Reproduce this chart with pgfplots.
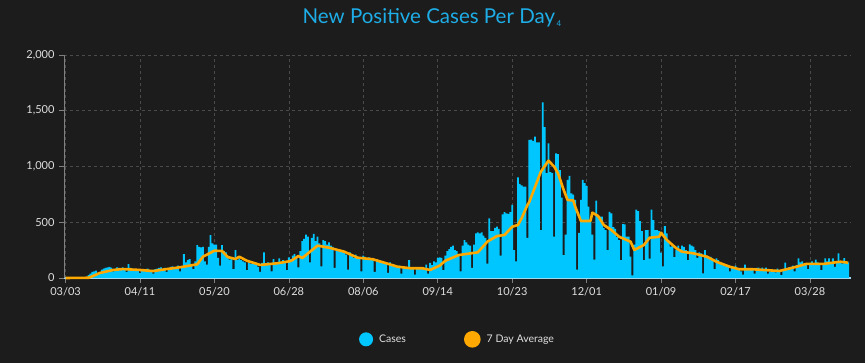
\documentclass[border=0pt]{standalone}
\usepackage{pgfplots}
\pgfplotsset{compat=1.18}
\usepackage{fontspec}
\setmainfont{Lato}
\definecolor{bgcol}{HTML}{1C1C1C}
\definecolor{casecol}{HTML}{00C6FF}
\definecolor{avgcol}{HTML}{FFA800}
\definecolor{titlecol}{HTML}{1EADE6}
\definecolor{gridcol}{HTML}{4A4A4A}
\definecolor{labcol}{HTML}{E0E0E0}
\definecolor{basecol}{HTML}{9ED9F0}
\begin{document}
\begin{tikzpicture}[x=1pt,y=1pt]
\fill[bgcol] (0,0) rectangle (865,363);
\node[text=titlecol, anchor=center] at (432,345) {{\fontsize{20.5}{24}\selectfont New Positive Cases Per Day}\,\raisebox{-3pt}{\fontsize{8}{9}\selectfont 4}};
\begin{axis}[
  at={(64pt,85pt)}, anchor=south west,
  width=787pt, height=223pt, scale only axis,
  xmin=-0.8, xmax=411.5, ymin=0, ymax=2000,
  axis x line*=bottom, axis y line*=left,
  x axis line style={basecol, line width=1.2pt, -},
  y axis line style={gray, line width=0.6pt, -},
  xtick={0,39,78,117,156,195,234,273,312,351,390},
  xticklabels={03/03,04/11,05/20,06/28,08/06,09/14,10/23,12/01,01/09,02/17,03/28},
  ytick={0,500,1000,1500,2000},
  yticklabels={0,500,{1,000},{1,500},{2,000}},
  tick align=outside, major tick length=5pt,
  tick style={gray, line width=0.6pt},
  xmajorgrids, ymajorgrids,
  major grid style={gridcol, dashed, line width=0.6pt},
  ticklabel style={text=labcol, font=\fontsize{11}{13}\selectfont},
  xticklabel style={yshift=-1pt},
  yticklabel style={xshift=-1pt},
  legend style={at={(0.5,-0.275)}, anchor=center, draw=none, fill=none,
    text=labcol, font=\fontsize{10.5}{12}\selectfont, legend columns=2,
    /tikz/every even column/.append style={column sep=56pt}},
  clip=false,
]
\addplot[ybar, bar width=1.8pt, bar shift=0pt, draw=none, fill=casecol,
  legend image code/.code={\fill[casecol] (0.06cm,0cm) circle (7pt);\path (0.45cm,0cm);}]
  coordinates {
(0,0)(1,0)(2,1)(3,0)(4,2)(5,1)(6,3)(7,2)(8,4)(9,3)(10,5)(11,8)(12,25)
(13,40)(14,55)(15,60)(16,65)(17,45)(18,50)(19,75)(20,85)
(21,90)(22,95)(23,100)(24,92)(25,60)(26,70)(27,95)
(28,90)(29,85)(30,95)(31,80)(32,55)(33,125)(34,90)
(35,85)(36,80)(37,80)(38,70)(39,45)(40,75)(41,80)
(42,75)(43,85)(44,60)(45,70)(46,40)(47,80)(48,85)
(49,90)(50,95)(51,80)(52,90)(53,55)(54,85)(55,100)
(56,105)(57,95)(58,90)(59,110)(60,60)(61,100)(62,215)
(63,140)(64,160)(65,170)(66,115)(67,80)(68,150)(69,295)
(70,280)(71,275)(72,280)(73,150)(74,120)(75,280)(76,385)
(77,310)(78,300)(79,300)(80,180)(81,110)(82,295)(83,240)
(84,230)(85,180)(86,165)(87,175)(88,80)(89,250)(90,160)
(91,175)(92,160)(93,150)(94,140)(95,70)(96,140)(97,130)
(98,125)(99,130)(100,115)(101,100)(102,55)(103,135)(104,230)
(105,120)(106,140)(107,120)(108,60)(109,170)(110,130)(111,135)
(112,175)(113,140)(114,160)(115,150)(116,70)(117,185)(118,170)
(119,200)(120,215)(121,180)(122,95)(123,240)(124,330)(125,350)
(126,390)(127,370)(128,140)(129,360)(130,395)(131,330)(132,370)
(133,310)(134,105)(135,340)(136,330)(137,300)(138,320)(139,290)
(140,280)(141,90)(142,260)(143,255)(144,250)(145,245)(146,230)
(147,210)(148,75)(149,230)(150,200)(151,180)(152,210)(153,190)
(154,190)(155,60)(156,200)(157,190)(158,175)(159,185)(160,170)
(161,165)(162,55)(163,170)(164,160)(165,150)(166,140)(167,130)
(168,130)(169,45)(170,140)(171,125)(172,120)(173,115)(174,105)
(175,110)(176,40)(177,100)(178,100)(179,95)(180,160)(181,90)
(182,95)(183,30)(184,90)(185,95)(186,90)(187,85)(188,80)
(189,120)(190,40)(191,135)(192,115)(193,150)(194,140)(195,180)
(196,185)(197,180)(198,70)(199,200)(200,240)(201,260)(202,280)
(203,290)(204,250)(205,240)(206,200)(207,60)(208,290)(209,340)
(210,320)(211,300)(212,290)(213,90)(214,300)(215,400)(216,410)
(217,400)(218,410)(219,380)(220,360)(221,130)(222,535)(223,420)
(224,420)(225,450)(226,460)(227,440)(228,200)(229,570)(230,590)
(231,580)(232,575)(233,590)(234,655)(235,250)(236,150)(237,903)
(238,845)(239,830)(240,820)(241,820)(242,360)(243,1238)(244,1240)
(245,1230)(246,1268)(247,1217)(248,1217)(249,430)(250,1576)(251,1352)
(252,940)(253,1208)(254,950)(255,940)(256,370)(257,1118)(258,1110)
(259,968)(260,720)(261,206)(262,388)(263,880)(264,915)(265,760)
(266,747)(267,700)(268,74)(269,405)(270,700)(271,879)(272,850)
(273,825)(274,640)(275,500)(276,390)(277,164)(278,693)(279,556)
(280,550)(281,550)(282,450)(283,430)(284,251)(285,592)(286,580)
(287,457)(288,440)(289,366)(290,340)(291,161)(292,484)(293,480)
(294,370)(295,370)(296,191)(297,24)(298,300)(299,613)(300,600)
(301,511)(302,421)(303,161)(304,430)(305,430)(306,174)(307,613)
(308,520)(309,430)(310,430)(311,420)(312,227)(313,105)(314,466)
(315,400)(316,326)(317,281)(318,290)(319,188)(320,250)(321,290)
(322,260)(323,290)(324,280)(325,251)(326,161)(327,302)(328,290)
(329,281)(330,250)(331,180)(332,230)(333,221)(334,42)(335,251)
(336,200)(337,183)(338,190)(339,170)(340,80)(341,175)(342,160)
(343,140)(344,130)(345,120)(346,110)(347,110)(348,60)(349,100)
(350,95)(351,110)(352,80)(353,75)(354,60)(355,30)(356,120)
(357,80)(358,75)(359,70)(360,85)(361,40)(362,90)(363,93)
(364,75)(365,93)(366,80)(367,93)(368,40)(369,60)(370,65)
(371,55)(372,50)(373,84)(374,55)(375,25)(376,70)(377,138)
(378,75)(379,95)(380,100)(381,110)(382,60)(383,115)(384,176)
(385,140)(386,150)(387,125)(388,130)(389,80)(390,120)(391,150)
(392,130)(393,165)(394,140)(395,120)(396,70)(397,130)(398,176)
(399,150)(400,176)(401,130)(402,176)(403,100)(404,140)(405,221)
(406,150)(407,130)(408,178)(409,150)(410,140)
};
\addlegendentry{Cases}
\addplot[avgcol, line width=2.6pt, line join=round, mark=none,
  legend image code/.code={\fill[avgcol] (0.06cm,0cm) circle (7pt);\path (0.45cm,0cm);}]
  coordinates {
(0,0)(12,2)(14,15)(18,45)(25,72)(30,80)(39,72)(46,62)(53,80)(60,96)
(69,123)(72,191)(78,245)(82,242)(85,188)(89,170)(91,191)(95,155)(102,117)
(111,132)(118,152)(122,197)(124,179)(132,290)(138,272)(146,236)(153,182)
(161,168)(168,132)(174,101)(181,87)(187,87)(191,72)(196,111)(199,155)
(206,206)(216,230)(221,326)(226,376)(230,386)(234,460)(237,475)(239,538)
(242,655)(243,684)(249,953)(253,1052)(256,999)(258,939)(261,789)(263,700)
(266,695)(267,640)(270,511)(275,511)(276,586)(279,556)(282,475)(286,430)
(290,370)(296,326)(298,251)(303,296)(306,361)(311,370)(312,406)(315,341)
(320,266)(323,236)(329,221)(336,191)(341,146)(348,101)(353,78)(360,78)
(374,63)(383,101)(388,126)(397,126)(406,146)(410,137)
};
\addlegendentry{7 Day Average}
\end{axis}
\end{tikzpicture}
\end{document}
